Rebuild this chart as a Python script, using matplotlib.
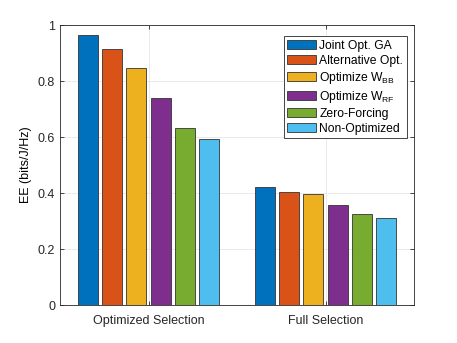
import numpy as np
import matplotlib.pyplot as plt

plt.rcParams['font.family'] = ['Liberation Sans', 'DejaVu Sans']

groups = ["Optimized Selection", "Full Selection"]
methods = ["Joint Opt. GA", "Alternative Opt.", r"Optimize W$_{\mathregular{BB}}$",
           r"Optimize W$_{\mathregular{RF}}$", "Zero-Forcing", "Non-Optimized"]
ee = [
    [0.964, 0.423],
    [0.914, 0.402],
    [0.846, 0.395],
    [0.739, 0.356],
    [0.632, 0.325],
    [0.593, 0.312],
]
colors = ["#0072BD", "#D95319", "#EDB120", "#7E2F8E", "#77AC30", "#4DBEEE"]

fig = plt.figure(figsize=(4.57, 3.43), dpi=100)
ax = fig.add_axes([60/457, 38/343, 354/457, 280/343])

x = np.arange(1, len(groups) + 1)
pitch = 0.1365
width = 0.113
for i, (name, vals) in enumerate(zip(methods, ee)):
    ax.bar(x + (i - 2.5) * pitch, vals, width, color=colors[i],
           edgecolor="#333333", linewidth=0.6, label=name, zorder=3)

ax.set_xlim(0.5, 2.5)
ax.set_ylim(0, 1)
ax.set_xticks(x)
ax.set_xticklabels(groups)
ax.set_yticks([0, 0.2, 0.4, 0.6, 0.8, 1])
ax.set_yticklabels(["0", "0.2", "0.4", "0.6", "0.8", "1"])
ax.set_ylabel("EE (bits/J/Hz)", fontsize=9)
ax.grid(True, color="#e6e6e6", linewidth=0.6, zorder=0)
ax.tick_params(direction="in", top=True, right=True, labelsize=9,
               length=3, width=0.6, color="#262626", labelcolor="#262626")
ax.tick_params(axis="x", pad=7)
for s in ax.spines.values():
    s.set_linewidth(0.6)
    s.set_color("#262626")

leg = ax.legend(loc="upper right", bbox_to_anchor=(0.986, 0.968), fontsize=8.7,
                handlelength=2.4, handleheight=0.8, handletextpad=0.25,
                labelspacing=0.25, borderpad=0.28, borderaxespad=0.2,
                fancybox=False, framealpha=1, edgecolor="#262626")
leg.get_frame().set_linewidth(0.6)

fig.savefig("out.png", dpi=100)
